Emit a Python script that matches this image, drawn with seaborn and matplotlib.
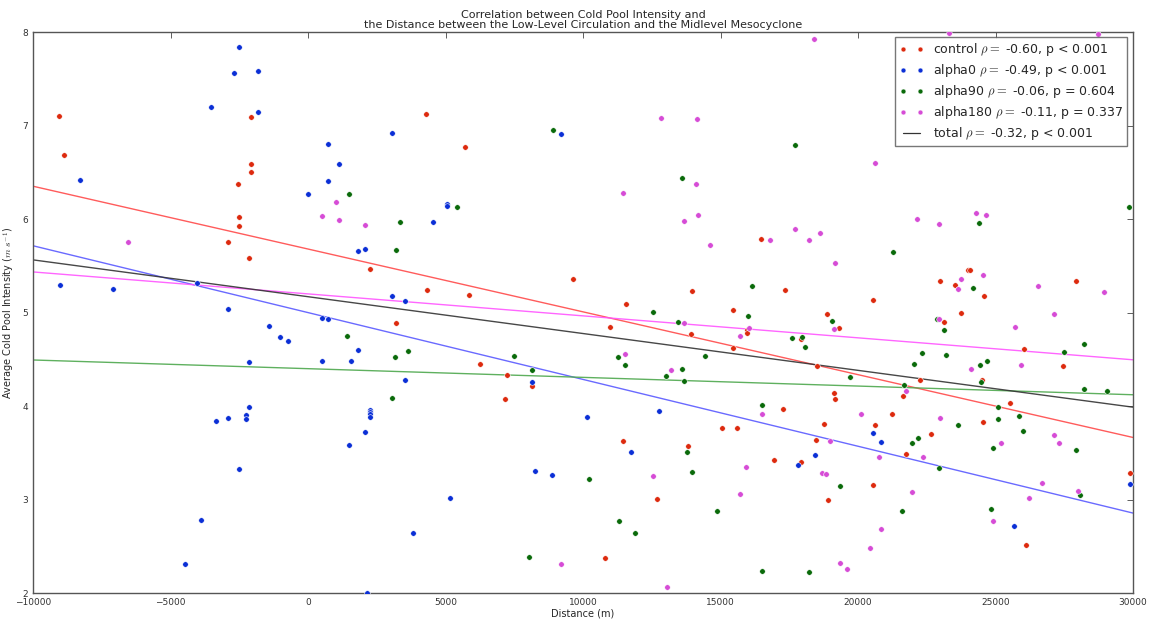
import numpy as np
import pandas as pd
import matplotlib
matplotlib.use("Agg")
import matplotlib.pyplot as plt
from matplotlib.lines import Line2D
import seaborn as sns

# distance between low-level circulation and midlevel mesocyclone (m), cold pool intensity (m/s)
control_x = [-9070, -8870, -2070, -2070, -2070, -2545, -2498, -2498, -2920, -2135,
             4280, 5698, 2255, 4316, 5844, 9626, 13964, 11564, 16473, 17346,
             20557, 15455, 18884, 24011, 24062, 22993, 23538, 24593, 27928, 23746,
             3200, 10982, 13927, 6266, 7226, 8156, 7164, 11444, 13818, 12680,
             10800, 19320, 15975, 15975, 17917, 15455, 18520, 21637, 19127, 19175,
             17273, 21237, 15066, 15589, 18775, 20607, 18473, 21746, 16946, 17938,
             20557, 18898, 23116, 26026, 27455, 24498, 22244, 25538, 24557, 22655,
             29880, 26120]
control_y = [7.10, 6.69, 7.09, 6.59, 6.50, 6.38, 6.02, 5.93, 5.76, 5.58,
             7.13, 6.77, 5.47, 5.24, 5.19, 5.36, 5.23, 5.09, 5.79, 5.24,
             5.14, 5.03, 4.98, 5.46, 5.46, 5.34, 5.29, 5.18, 5.34, 5.00,
             4.89, 4.85, 4.77, 4.45, 4.33, 4.22, 4.08, 3.63, 3.57, 3.01,
             2.37, 4.84, 4.81, 4.78, 4.72, 4.62, 4.43, 4.11, 4.14, 4.08,
             3.97, 3.92, 3.76, 3.76, 3.81, 3.80, 3.64, 3.49, 3.42, 3.40,
             3.16, 3.00, 4.90, 4.61, 4.43, 4.28, 4.28, 4.03, 3.83, 3.70,
             3.28, 2.51]

alpha0_x = [-2498, -2702, -1807, -1807, -3527, -8280, -9029, -7080, -4036, -2920,
            3055, 716, 1116, 716, 0, 5044, 5044, 4546, 1807, 2073,
            3055, 3527, 9189, -2135, -2135, -3356, -2920, -2244, -2244, -2498,
            -3902, -4473, -1418, -1007, -716, 498, 716, 1807, 498, 1575,
            3538, 2244, 2244, 2244, 2244, 2073, 1502, 5153, 3818, 2135,
            8156, 10146, 12764, 11735, 8255, 8862, 20546, 20837, 18426, 17829,
            29880, 25662]
alpha0_y = [7.84, 7.56, 7.59, 7.15, 7.20, 6.42, 5.29, 5.25, 5.32, 5.04,
            6.92, 6.80, 6.59, 6.41, 6.27, 6.16, 6.14, 5.97, 5.66, 5.68,
            5.18, 5.12, 6.91, 4.47, 3.99, 3.84, 3.87, 3.90, 3.86, 3.33,
            2.78, 2.31, 4.86, 4.74, 4.70, 4.94, 4.93, 4.60, 4.48, 4.48,
            4.28, 3.96, 3.94, 3.91, 3.88, 3.72, 3.58, 3.02, 2.64, 2.00,
            4.26, 3.88, 3.95, 3.51, 3.31, 3.26, 3.71, 3.62, 3.48, 3.37,
            3.17, 2.72]

alpha90_x = [1502, 5418, 3356, 3189, 8920, 13589, 12546, 17709, 21284, 16146,
             16011, 24400, 29866, 24171, 1418, 3164, 3647, 3055, 13444, 7502,
             11262, 11527, 8156, 13600, 13007, 13673, 13771, 10207, 13964, 11298,
             11902, 8025, 19066, 17611, 17953, 18062, 14436, 19720, 21662, 22025,
             16520, 21964, 19346, 14884, 21589, 16520, 18218, 22884, 23116, 28207,
             27491, 22316, 23200, 24702, 24426, 24473, 28229, 29055, 25091, 25102,
             25844, 23626, 26000, 22182, 24909, 27928, 22946, 28073, 24825]
alpha90_y = [6.27, 6.13, 5.97, 5.67, 6.95, 6.44, 5.01, 6.79, 5.65, 5.28,
             4.96, 5.96, 6.13, 5.26, 4.75, 4.53, 4.59, 4.09, 4.90, 4.54,
             4.53, 4.44, 4.39, 4.40, 4.32, 4.27, 3.51, 3.22, 3.29, 2.77,
             2.64, 2.38, 4.91, 4.73, 4.74, 4.63, 4.54, 4.31, 4.23, 4.45,
             4.01, 3.61, 3.14, 2.88, 2.88, 2.24, 2.23, 4.93, 4.81, 4.66,
             4.58, 4.57, 4.55, 4.48, 4.44, 4.26, 4.18, 4.16, 3.99, 3.86,
             3.89, 3.80, 3.73, 3.66, 3.55, 3.53, 3.34, 3.05, 2.90]

alpha180_x = [-6535, 1007, 498, 1116, 2073, 12836, 14156, 14098, 11444, 13662,
              14182, 18389, 20629, 17720, 16800, 18218, 18607, 14607, 19175, 23298,
              28738, 22135, 22946, 24302, 24644, 23746, 24557, 23626, 26546, 28946,
              27138, 13684, 11538, 13211, 12546, 9189, 13055, 19138, 15720, 16025,
              21746, 16520, 20120, 18971, 20764, 15916, 18691, 18825, 21953, 15720,
              20847, 20437, 19346, 19600, 22957, 25709, 24120, 25916, 22982, 27138,
              27320, 25211, 22375, 26680, 28011, 26218, 24909]
alpha180_y = [5.76, 6.18, 6.03, 5.99, 5.94, 7.08, 7.07, 6.38, 6.28, 5.98,
              6.04, 7.93, 6.60, 5.89, 5.78, 5.78, 5.85, 5.72, 5.53, 7.99,
              7.98, 6.00, 5.95, 6.07, 6.04, 5.36, 5.40, 5.25, 5.28, 5.22,
              4.98, 4.89, 4.56, 4.39, 3.25, 2.31, 2.06, 4.82, 4.75, 4.84,
              4.16, 3.91, 3.91, 3.63, 3.46, 3.35, 3.28, 3.27, 3.08, 3.06,
              2.69, 2.48, 2.32, 2.26, 4.93, 4.85, 4.40, 4.44, 3.87, 3.69,
              3.61, 3.61, 3.45, 3.18, 3.09, 3.02, 2.77]

experiments = ["control", "alpha0", "alpha90", "alpha180"]
stats = ["-0.60, p < 0.001", "-0.49, p < 0.001", "-0.06, p = 0.604", "-0.11, p = 0.337"]
total_stat = "-0.32, p < 0.001"

# least-squares fits over each full experiment set: intercept (m/s) and slope (m/s per km)
fit_names = ["control", "alpha0", "alpha90", "alpha180", "total"]
fit_intercept = [5.68, 5.00, 4.40, 5.20, 5.17]
fit_slope = [-0.0672, -0.0715, -0.0093, -0.0235, -0.0394]

frames = []
for name, xs, ys in zip(experiments,
                        [control_x, alpha0_x, alpha90_x, alpha180_x],
                        [control_y, alpha0_y, alpha90_y, alpha180_y]):
    frames.append(pd.DataFrame({"distance": xs, "intensity": ys, "run": name}))
df = pd.concat(frames, ignore_index=True)

point_colors = {"control": "#dd2a0e", "alpha0": "#0b2fd6", "alpha90": "#0a6a0a", "alpha180": "#d64cd6"}
line_colors = {"control": "#ff4a4a", "alpha0": "#5a5aff", "alpha90": "#4ea84e",
               "alpha180": "#ff55ff", "total": "#333333"}

sns.set_style("white")
plt.rcParams["font.family"] = ["DejaVu Sans"]
plt.rcParams["mathtext.fontset"] = "cm"

xmin, xmax = -10000, 30000
fig = plt.figure(figsize=(11.51, 6.19), dpi=100)
ax = fig.add_axes([0.0287, 0.042, 0.9557, 0.906])

for name in experiments:
    sub = df[df["run"] == name]
    sns.scatterplot(data=sub, x="distance", y="intensity", ax=ax, color=point_colors[name],
                    s=16, edgecolor="white", linewidth=0.4, zorder=3, legend=False)

# fitted lines evaluated across the plotted distance range
span = np.array([xmin, xmax], dtype=float)
fit_rows = []
for name, b0, b1 in zip(fit_names, fit_intercept, fit_slope):
    fit_rows.append(pd.DataFrame({"distance": span, "intensity": b0 + b1 * span / 1000.0,
                                  "fit": name}))
fits = pd.concat(fit_rows, ignore_index=True)
sns.lineplot(data=fits, x="distance", y="intensity", hue="fit", palette=line_colors,
             hue_order=fit_names, ax=ax, lw=1.0, alpha=0.9, legend=False, zorder=2)

ax.set_xlim(xmin, xmax)
ax.set_ylim(2, 8)
ax.set_xticks(np.arange(-10000, 30001, 5000))
ax.set_yticks(np.arange(2, 9, 1))
ax.tick_params(direction="in", length=4, width=0.6, labelsize=6.5, top=True, right=True,
               colors="#444444", labelcolor="#333333")
for sp in ax.spines.values():
    sp.set_color("#555555")
    sp.set_linewidth(1.0)

ax.set_xlabel("Distance (m)", fontsize=7, labelpad=1)
ax.set_ylabel(r"Average Cold Pool Intensity ($m\ s^{-1}$)", fontsize=7, labelpad=4)
ax.set_title("Correlation between Cold Pool Intensity and\n"
             "the Distance between the Low-Level Circulation and the Midlevel Mesocyclone",
             fontsize=8, pad=3, linespacing=1.05)

handles = []
for name, st in zip(experiments, stats):
    handles.append(Line2D([], [], ls="none", marker="o", ms=3.5, color=point_colors[name],
                          markeredgecolor="white", markeredgewidth=0.3,
                          label=name + r" $\rho=$ " + st))
handles.append(Line2D([], [], color="#333333", lw=0.9, label=r"total $\rho=$ " + total_stat))
leg = ax.legend(handles=handles, loc="upper right", numpoints=2, fontsize=9,
                frameon=True, fancybox=False, borderpad=0.3, labelspacing=0.33,
                handlelength=2.0, handletextpad=0.7, borderaxespad=0.0,
                bbox_to_anchor=(0.9945, 0.991))
leg.get_frame().set_edgecolor("#555555")
leg.get_frame().set_linewidth(1.0)

fig.savefig("out.png", dpi=100)
